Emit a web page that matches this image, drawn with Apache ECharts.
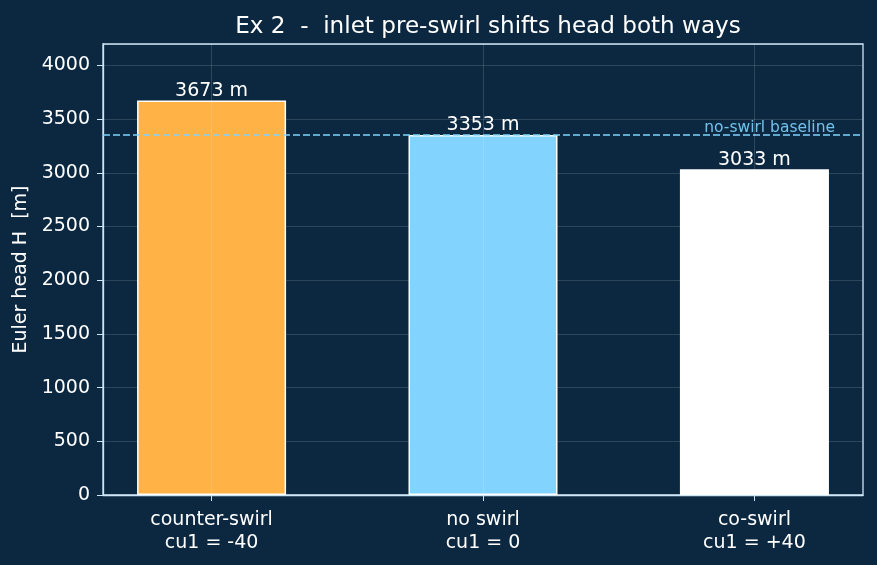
<!DOCTYPE html>
<html><head><meta charset="utf-8">
<script src="https://cdn.jsdelivr.net/npm/echarts@6/dist/echarts.min.js"></script>
<style>html,body{margin:0;padding:0;background:#0c2840;}#c{width:877px;height:565px;}</style>
</head><body><div id="c"></div>
<script>
const categories = ['counter-swirl\ncu1 = -40', 'no swirl\ncu1 = 0', 'co-swirl\ncu1 = +40'];
const categoryPositions = [0, 1, 2];
const headValues = [3673, 3353, 3033];
const barColors = ['#ffb347', '#82d4ff', '#ffffff'];
const baselineValue = 3353;
const baselineLabel = 'no-swirl baseline';
const yTicks = {min: 0, max: 4200, interval: 500};
const xRange = {min: -0.4, max: 2.4};

const chart = echarts.init(document.getElementById('c'));
const FONT = '"DejaVu Sans"';
const GRIDC = 'rgba(255,255,255,0.14)';
const AXC = '#cde6f7';
chart.setOption({
  backgroundColor: '#0c2840',
  textStyle: {fontFamily: FONT},
  animation: false,
  title: {
    text: 'Ex 2  -  inlet pre-swirl shifts head both ways',
    left: 483, top: 10, textAlign: 'center',
    textStyle: {color: '#ffffff', fontSize: 23.1, fontWeight: 'normal', fontFamily: FONT}
  },
  grid: {left: 103, right: 14, top: 44, bottom: 70, show: true, borderColor: AXC, borderWidth: 1.3, backgroundColor: 'transparent'},
  xAxis: {
    type: 'value', min: xRange.min, max: xRange.max,
    axisLine: {show: true, onZero: false, lineStyle: {color: AXC, width: 1.3}},
    axisTick: {show: true, customValues: categoryPositions, length: 6, lineStyle: {color: AXC}},
    axisLabel: {customValues: categoryPositions, color: '#ffffff', fontSize: 19, lineHeight: 23, margin: 14, fontFamily: FONT,
      formatter: v => categories[Math.round(v)] || ''},
    splitLine: {show: false}
  },
  yAxis: {
    type: 'value', min: yTicks.min, max: yTicks.max, interval: yTicks.interval,
    name: 'Euler head H  [m]', nameLocation: 'middle', nameGap: 67,
    nameTextStyle: {color: '#ffffff', fontSize: 19, fontFamily: FONT},
    axisLine: {show: true, onZero: false, lineStyle: {color: AXC, width: 1.3}},
    axisTick: {show: true, length: 6, lineStyle: {color: AXC}},
    axisLabel: {color: '#ffffff', fontSize: 19, margin: 13, fontFamily: FONT, padding: [7, 0, 0, 0],
      showMaxLabel: false, formatter: v => String(v)},
    splitLine: {lineStyle: {color: GRIDC, width: 1}}
  },
  series: [{
    type: 'bar', barWidth: 149,
    data: headValues.map((v, i) => ({value: [categoryPositions[i], v], itemStyle: {color: barColors[i]}})),
    itemStyle: {borderColor: '#ffffff', borderWidth: 1.5, opacity: 1},
    label: {show: true, position: 'top', distance: 0, color: '#ffffff', fontSize: 19, fontFamily: FONT,
      formatter: p => p.value[1] + ' m'},
    z: 2,
    markLine: {
      symbol: 'none', silent: true,
      data: [
        {yAxis: baselineValue, lineStyle: {color: '#7fd3ff', type: [7, 3], width: 1.5},
         label: {show: true, position: 'insideEndTop', formatter: baselineLabel, color: '#7fd3ff', opacity: 0.9, fontSize: 15.5, distance: [28, -1], fontFamily: FONT}}
      ].concat(categoryPositions.map(p => ({xAxis: p, lineStyle: {color: GRIDC, type: 'solid', width: 1}, label: {show: false}})))
    }
  }]
});
</script></body></html>
